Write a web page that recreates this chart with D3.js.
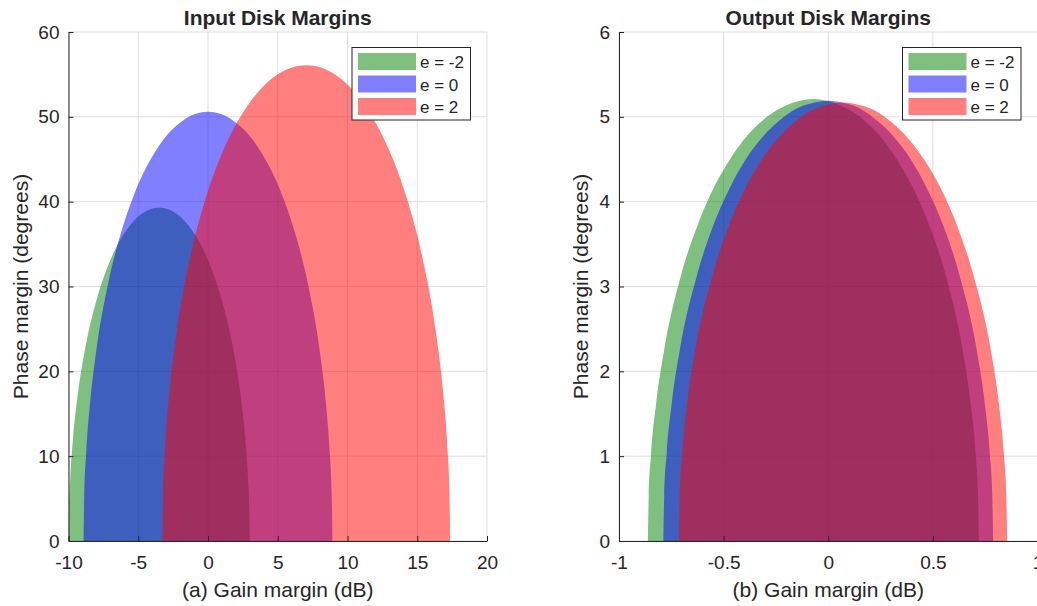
<!DOCTYPE html>
<html>
<head>
<meta charset="utf-8">
<script src="https://cdn.jsdelivr.net/npm/d3@7"></script>
<style>
  body { margin: 0; background: #fff; }
  svg { display: block; }
  text { font-family: "Liberation Sans", Arial, Helvetica, sans-serif; fill: #262626; }
</style>
</head>
<body>
<svg id="chart" width="1037" height="606"></svg>
<script>
// Skew values of the disk and their fill colours
const skewLabels = ["e = -2", "e = 0", "e = 2"];
const skewColors = ["#008000", "#0000ff", "#ff0000"];

// Input disk margins: gain (dB) and phase (deg) along each region boundary
const inGainNeg2 = [-10, -9.968, -9.87, -9.675, -9.35, -8.7, -8.05, -7.4, -6.75, -6.1, -5.45, -4.8, -4.15, -3.5, -2.85, -2.2, -1.55, -0.9, -0.25, 0.4, 1.05, 1.7, 2.35, 2.675, 2.87, 2.968, 3.0];
const inPhaseNeg2 = [0, 3.21, 7.51, 12.11, 17.05, 23.55, 28.06, 31.44, 34.04, 36.03, 37.49, 38.51, 39.11, 39.30, 39.11, 38.51, 37.49, 36.03, 34.04, 31.44, 28.06, 23.55, 17.05, 12.11, 7.51, 3.21, 0];
const inGainZero = [-8.92, -8.875, -8.742, -8.474, -8.028, -7.136, -6.244, -5.352, -4.46, -3.568, -2.676, -1.784, -0.892, 0, 0.892, 1.784, 2.676, 3.568, 4.46, 5.352, 6.244, 7.136, 8.028, 8.474, 8.742, 8.875, 8.92];
const inPhaseZero = [0, 5.10, 10.15, 15.92, 22.21, 30.54, 36.30, 40.62, 43.93, 46.45, 48.32, 49.58, 50.35, 50.60, 50.35, 49.58, 48.32, 46.45, 43.93, 40.62, 36.30, 30.54, 22.21, 15.92, 10.15, 5.10, 0];
const inGainPos2 = [-3.27, -3.218, -3.064, -2.754, -2.239, -1.207, -0.176, 0.856, 1.888, 2.919, 3.951, 4.982, 6.014, 7.045, 8.077, 9.108, 10.14, 11.171, 12.203, 13.234, 14.266, 15.297, 16.329, 16.844, 17.154, 17.308, 17.36];
const inPhasePos2 = [0, 5.68, 11.30, 17.73, 24.73, 33.96, 40.34, 45.11, 48.75, 51.52, 53.57, 54.98, 55.81, 56.08, 55.81, 54.98, 53.57, 51.52, 48.75, 45.11, 40.34, 33.96, 24.73, 17.73, 11.30, 5.68, 0];

// Output disk margins
const outGainNeg2 = [-0.862, -0.858, -0.846, -0.822, -0.783, -0.704, -0.625, -0.546, -0.467, -0.387, -0.308, -0.229, -0.150, -0.071, 0.008, 0.087, 0.166, 0.245, 0.325, 0.404, 0.483, 0.562, 0.641, 0.680, 0.704, 0.716, 0.720];
const outPhaseNeg2 = [0, 0.52, 1.04, 1.63, 2.27, 3.13, 3.72, 4.17, 4.51, 4.78, 4.97, 5.10, 5.18, 5.21, 5.18, 5.10, 4.97, 4.78, 4.51, 4.17, 3.72, 3.13, 2.27, 1.63, 1.04, 0.52, 0];
const outGainZero = [-0.788, -0.784, -0.772, -0.748, -0.709, -0.630, -0.551, -0.473, -0.394, -0.315, -0.236, -0.158, -0.079, 0, 0.079, 0.158, 0.236, 0.315, 0.394, 0.473, 0.551, 0.630, 0.709, 0.748, 0.772, 0.784, 0.788];
const outPhaseZero = [0, 0.52, 1.03, 1.62, 2.26, 3.11, 3.71, 4.15, 4.50, 4.76, 4.95, 5.09, 5.16, 5.19, 5.16, 5.09, 4.95, 4.76, 4.50, 4.15, 3.71, 3.11, 2.26, 1.62, 1.03, 0.52, 0];
const outGainPos2 = [-0.714, -0.710, -0.698, -0.675, -0.636, -0.557, -0.479, -0.400, -0.322, -0.243, -0.165, -0.086, -0.008, 0.071, 0.149, 0.227, 0.306, 0.384, 0.463, 0.541, 0.620, 0.698, 0.777, 0.816, 0.839, 0.851, 0.855];
const outPhasePos2 = [0, 0.52, 1.03, 1.61, 2.25, 3.10, 3.69, 4.14, 4.48, 4.74, 4.93, 5.07, 5.14, 5.17, 5.14, 5.07, 4.93, 4.74, 4.48, 4.14, 3.69, 3.10, 2.25, 1.61, 1.03, 0.52, 0];

// Axis ticks
const inXTicks = [-10, -5, 0, 5, 10, 15, 20];
const inYTicks = [0, 10, 20, 30, 40, 50, 60];
const outXTicks = [-1, -0.5, 0, 0.5, 1];
const outYTicks = [0, 1, 2, 3, 4, 5, 6];

const panels = [
  {
    title: "Input Disk Margins", xlabel: "(a) Gain margin (dB)",
    left: 68.5, xDomain: [-10, 20], yDomain: [0, 60], ylabelOffset: 41,
    xTicks: inXTicks, yTicks: inYTicks,
    series: [[inGainNeg2, inPhaseNeg2], [inGainZero, inPhaseZero], [inGainPos2, inPhasePos2]]
  },
  {
    title: "Output Disk Margins", xlabel: "(b) Gain margin (dB)",
    left: 619, xDomain: [-1, 1], yDomain: [0, 6], ylabelOffset: 31,
    xTicks: outXTicks, yTicks: outYTicks,
    series: [[outGainNeg2, outPhaseNeg2], [outGainZero, outPhaseZero], [outGainPos2, outPhasePos2]]
  }
];

const plotW = 418.5, plotTop = 32, plotBottom = 541;
const axisColor = "#262626", gridColor = "#dfdfdf";
const tickFont = "19px", labelFont = "21px", legendFont = "17px";
const svg = d3.select("#chart");

panels.forEach((p, pi) => {
  const x = d3.scaleLinear().domain(p.xDomain).range([p.left, p.left + plotW]);
  const y = d3.scaleLinear().domain(p.yDomain).range([plotBottom, plotTop]);
  const g = svg.append("g");

  const clipId = "clip" + pi;
  svg.append("clipPath").attr("id", clipId).append("rect")
    .attr("x", p.left).attr("y", plotTop).attr("width", plotW).attr("height", plotBottom - plotTop);

  // grid
  g.append("g").selectAll("line").data(p.xTicks).join("line")
    .attr("x1", d => x(d)).attr("x2", d => x(d)).attr("y1", plotTop).attr("y2", plotBottom)
    .attr("stroke", gridColor).attr("stroke-width", 1);
  g.append("g").selectAll("line").data(p.yTicks).join("line")
    .attr("y1", d => y(d)).attr("y2", d => y(d)).attr("x1", p.left).attr("x2", p.left + plotW)
    .attr("stroke", gridColor).attr("stroke-width", 1);

  // filled margin regions
  const area = d3.area()
    .x(d => x(d[0])).y0(y(0)).y1(d => y(d[1]))
    .curve(d3.curveMonotoneX);
  const regions = g.append("g").attr("clip-path", `url(#${clipId})`);
  p.series.forEach((s, i) => {
    const pts = s[0].map((v, k) => [v, s[1][k]]);
    regions.append("path").datum(pts).attr("d", area)
      .attr("fill", skewColors[i]).attr("fill-opacity", 0.5).attr("stroke", "none");
  });

  // axes
  const xAxis = d3.axisBottom(x).tickValues(p.xTicks).tickSizeInner(-5).tickSizeOuter(0).tickPadding(15)
    .tickFormat(d3.format("~g"));
  const yAxis = d3.axisLeft(y).tickValues(p.yTicks).tickSizeInner(-5).tickSizeOuter(0).tickPadding(9)
    .tickFormat(d3.format("~g"));
  const gx = g.append("g").attr("transform", `translate(0,${plotBottom})`).call(xAxis);
  const gy = g.append("g").attr("transform", `translate(${p.left},0)`).call(yAxis);
  [gx, gy].forEach(a => {
    a.select(".domain").attr("stroke", axisColor);
    a.selectAll(".tick line").attr("stroke", axisColor);
    a.selectAll(".tick text").attr("fill", axisColor).style("font-size", tickFont)
      .style("font-family", '"Liberation Sans", Arial, sans-serif');
  });
  gx.selectAll(".tick text").text(d => d < 0 ? "-" + Math.abs(d) : d);
  gy.selectAll(".tick text").text(d => d < 0 ? "-" + Math.abs(d) : d);

  // titles and labels
  const cx = p.left + plotW / 2;
  g.append("text").attr("x", cx).attr("y", 25).attr("text-anchor", "middle")
    .style("font-size", labelFont).style("font-weight", "bold").attr("fill", "#000").text(p.title);
  g.append("text").attr("x", cx).attr("y", 597).attr("text-anchor", "middle")
    .style("font-size", labelFont).text(p.xlabel);
  g.append("text").attr("transform", `translate(${p.left - p.ylabelOffset},${(plotTop + plotBottom) / 2}) rotate(-90)`)
    .attr("text-anchor", "middle").style("font-size", labelFont).text("Phase margin (degrees)");

  // legend
  const lx = p.left + plotW - 135, ly = 47.5;
  const leg = g.append("g").attr("transform", `translate(${lx},${ly})`);
  leg.append("rect").attr("x", 0).attr("y", 0).attr("width", 118.5).attr("height", 72.5)
    .attr("fill", "#fff").attr("stroke", axisColor).attr("stroke-width", 1);
  skewLabels.forEach((lab, i) => {
    leg.append("rect").attr("x", 6).attr("y", 5.5 + i * 22.5).attr("width", 58).attr("height", 17)
      .attr("fill", skewColors[i]).attr("fill-opacity", 0.5);
    leg.append("text").attr("x", 68).attr("y", 20.5 + i * 22.5).style("font-size", legendFont).text(lab);
  });
});
</script>
</body>
</html>
